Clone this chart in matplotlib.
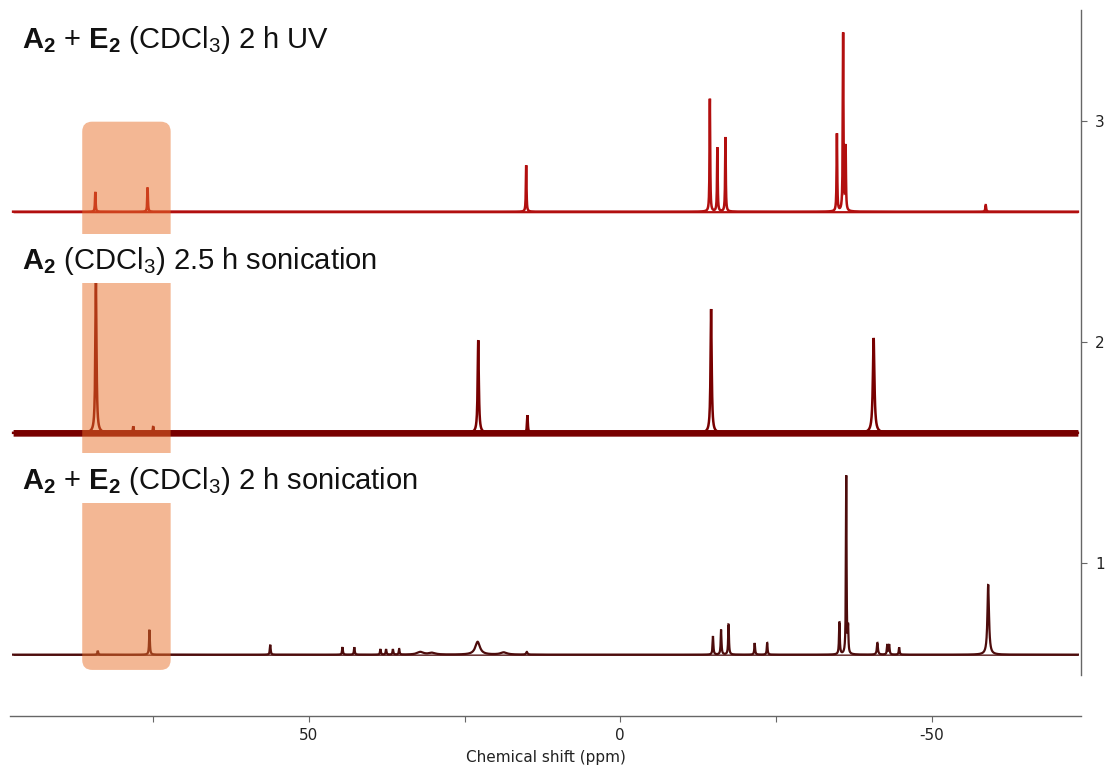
import numpy as np
import matplotlib
matplotlib.use("Agg")
import matplotlib.pyplot as plt
from matplotlib.patches import FancyBboxPatch, Rectangle

plt.rcParams['font.family'] = ['DejaVu Sans']
plt.rcParams['axes.unicode_minus'] = False
plt.rcParams['mathtext.fontset'] = 'custom'
plt.rcParams['mathtext.rm'] = 'Liberation Sans'
plt.rcParams['mathtext.it'] = 'Liberation Sans:italic'
plt.rcParams['mathtext.bf'] = 'Liberation Sans:bold'

# ---- peak lists (chemical shift in ppm, intensity, line width in ppm) ----
uv_shift = [84.3, 75.9, 15.1, -14.4, -15.6, -16.9, -34.8, -35.8, -36.2, -58.7]
uv_int = [0.09, 0.11, 0.21, 0.51, 0.29, 0.34, 0.355, 0.81, 0.29, 0.03]
uv_width = [0.12, 0.12, 0.12, 0.12, 0.12, 0.12, 0.12, 0.12, 0.12, 0.15]

son_a_shift = [84.2, 78.2, 75.0, 22.8, 14.9, -14.6, -40.7]
son_a_int = [0.68, 0.03, 0.03, 0.42, 0.08, 0.56, 0.43]
son_a_width = [0.22, 0.15, 0.15, 0.22, 0.15, 0.22, 0.3]

son_ae_shift = [83.9, 75.6, 56.2, 44.6, 42.7, 38.5, 37.6, 36.5, 35.5, 32.1, 30.2,
                22.9, 18.7, 15.0, -14.9, -16.2, -17.4, -21.6, -23.6, -35.2,
                -36.3, -36.6, -41.3, -42.9, -43.2, -44.8, -59.1]
son_ae_int = [0.018, 0.113, 0.045, 0.034, 0.034, 0.025, 0.025, 0.025, 0.025,
              0.012, 0.008, 0.058, 0.01, 0.012, 0.084, 0.113, 0.137, 0.053,
              0.053, 0.145, 0.81, 0.11, 0.053, 0.045, 0.045, 0.033, 0.318]
son_ae_width = [0.15, 0.15, 0.15, 0.15, 0.15, 0.15, 0.15, 0.15, 0.15, 1.2, 1.2,
                0.9, 1.2, 0.25, 0.15, 0.15, 0.15, 0.15, 0.15, 0.15,
                0.12, 0.12, 0.2, 0.15, 0.15, 0.15, 0.3]

offsets = [2.588, 1.588, 0.585]
noise_half = [0.005, 0.015, 0.003]
colors = ['#b20f0f', '#780000', '#4d0c0c']
linewidths = [1.8, 1.8, 1.6]
labels = [r'$\mathbf{A_2}$ + $\mathbf{E_2}$ (CDCl$_3$) 2 h UV',
          r'$\mathbf{A_2}$ (CDCl$_3$) 2.5 h sonication',
          r'$\mathbf{A_2}$ + $\mathbf{E_2}$ (CDCl$_3$) 2 h sonication']
label_y = [3.33, 2.33, 1.335]

x_ticks = [50, 0, -50]
x_minor = [75, 25, -25]
y_ticks = [1, 2, 3]

ppm = np.linspace(-73.5, 97.5, 12000)


def spectrum(shifts, ints, widths):
    y = np.zeros_like(ppm)
    for s, a, w in zip(shifts, ints, widths):
        y += a / (1.0 + ((ppm - s) / (w / 2.0)) ** 2)
    return y


peak_sets = [(uv_shift, uv_int, uv_width),
             (son_a_shift, son_a_int, son_a_width),
             (son_ae_shift, son_ae_int, son_ae_width)]

fig = plt.figure(figsize=(11.06, 7.69), dpi=100)
ax = fig.add_axes([10 / 1106, 1 - 675 / 769, (1081 - 10) / 1106, 665 / 769])

for (sh, it, wd), off, nh, col, lw in zip(peak_sets, offsets, noise_half, colors, linewidths):
    y = spectrum(sh, it, wd) + off
    ax.fill_between(ppm, off - nh, off + nh, color=col, lw=0, zorder=2)
    ax.plot(ppm, y, color=col, lw=lw, zorder=3, solid_joinstyle='miter')

# highlighted region across all three traces
box = FancyBboxPatch((72.2, 0.516), 86.4 - 72.2, 2.995 - 0.516,
                     boxstyle='round,pad=0,rounding_size=1.6',
                     mutation_aspect=0.045 / 1.6,
                     facecolor='#e8702a', alpha=0.5, edgecolor='none', zorder=4)
ax.add_patch(box)

# white backing behind the trace labels
for y0, y1 in [(2.267, 2.489), (1.271, 1.498)]:
    ax.add_patch(Rectangle((70, y0), 20, y1 - y0, facecolor='white',
                           edgecolor='none', zorder=5))

for lab, ly in zip(labels, label_y):
    ax.text(96.1, ly, lab, fontsize=21, va='baseline', ha='left', zorder=6,
            color='#111111', fontfamily='Liberation Sans')

ax.set_xlim(98, -74)
ax.set_ylim(0.493, 3.50)

for side in ['left', 'top']:
    ax.spines[side].set_visible(False)
ax.spines['bottom'].set_position(('outward', 29.5))
for side in ['bottom', 'right']:
    ax.spines[side].set_color('#666666')
    ax.spines[side].set_linewidth(1.0)

ax.yaxis.tick_right()
ax.set_yticks(y_ticks)
ax.set_yticklabels([str(t) for t in y_ticks])
ax.set_xticks(x_ticks)
ax.set_xticklabels([str(t) for t in x_ticks])
ax.set_xticks(x_minor, minor=True)
ax.tick_params(axis='both', which='both', direction='out', length=4,
               width=0.8, color='#666666', labelsize=11, labelcolor='#222222')
ax.tick_params(axis='x', which='major', pad=5)
ax.tick_params(axis='y', which='major', pad=6)
ax.set_xlabel('Chemical shift (ppm)', fontsize=11, color='#222222', labelpad=5)

fig.savefig('out.png', dpi=100)
